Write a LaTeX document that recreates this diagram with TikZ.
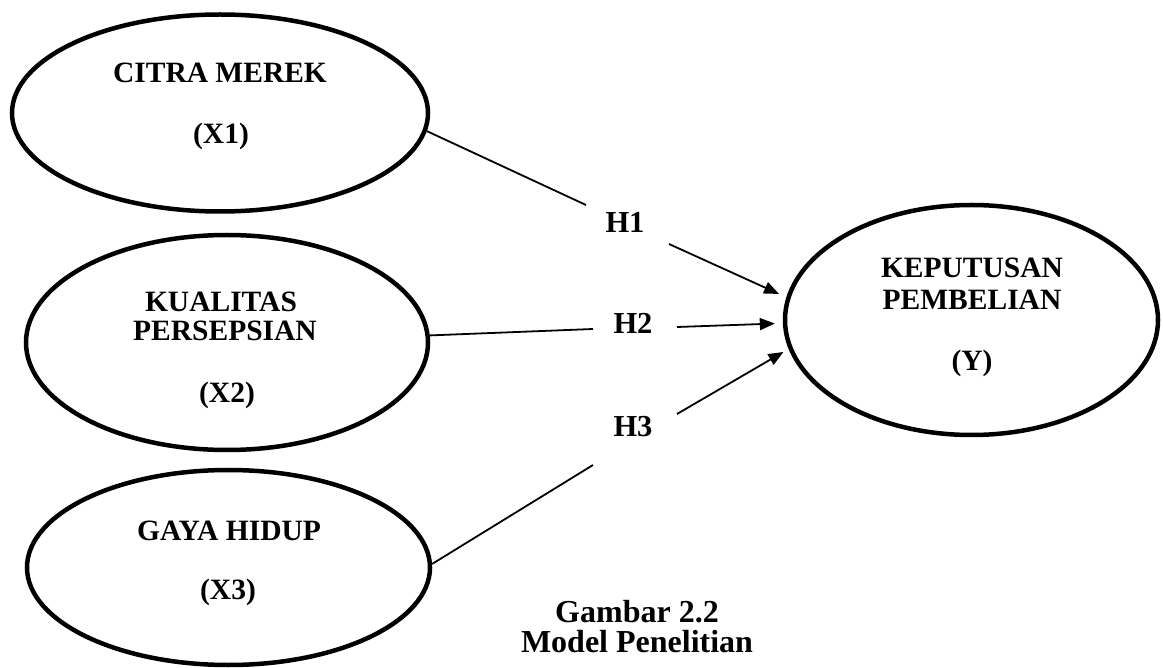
\documentclass[tikz,border=0pt]{standalone}
\usepackage{fontspec}
\setmainfont{Liberation Serif}
\usetikzlibrary{arrows.meta,shapes.geometric}
\begin{document}
\begin{tikzpicture}[x=1pt,y=-1pt,
  ell/.style={ellipse,draw,line width=4.5pt,inner sep=0pt},
  lbl/.style={inner sep=0pt,font=\fontsize{29.5}{30}\selectfont\bfseries},
  hyp/.style={inner sep=0pt,font=\fontsize{30.5}{31}\selectfont\bfseries},
  captxt/.style={inner sep=0pt,font=\fontsize{32}{33}\selectfont\bfseries},
  conn/.style={line width=1.8pt},
  arr/.style={line width=1.8pt,-{Triangle[length=15pt,width=12pt]}}]
\useasboundingbox (0,0) rectangle (1163,668);
% ellipses
\node[ell,minimum width=416pt,minimum height=197pt] (e1) at (220,113) {};
\node[ell,minimum width=402pt,minimum height=215pt] (e2) at (227,342.5) {};
\node[ell,minimum width=403pt,minimum height=195pt] (e3) at (228.5,567.5) {};
\node[ell,minimum width=373pt,minimum height=230pt] (e4) at (971.5,320) {};
% texts
\node[lbl] (t1a) at (220,73) {CITRA MEREK};
\node[lbl] (t1b) at (221,136) {(X1)};
\node[lbl] (t2a) at (221,302) {KUALITAS};
\node[lbl] (t2b) at (225,331) {PERSEPSIAN};
\node[lbl] (t2c) at (227,395) {(X2)};
\node[lbl] (t3a) at (229,531) {GAYA HIDUP};
\node[lbl] (t3b) at (228,592) {(X3)};
\node[lbl] (t4a) at (972,268) {KEPUTUSAN};
\node[lbl] (t4b) at (972,300) {PEMBELIAN};
\node[lbl] (t4c) at (972,363) {(Y)};
% hypothesis labels
\node[hyp] (H1) at (625,222) {H1};
\node[hyp] (H2) at (633,323) {H2};
\node[hyp] (H3) at (633,427) {H3};
% connector free ends
\coordinate (h1a) at (586,205);
\coordinate (h1b) at (669,244);
\coordinate (h2a) at (593,329);
\coordinate (h2b) at (677,327);
\coordinate (h3a) at (593,465);
\coordinate (h3b) at (677,414);
\draw[conn] (e1.-5) -- (h1a);
\draw[arr,shorten >=8pt] (h1b) -- (e4.173);
\draw[conn] (e2.2) -- (h2a);
\draw[arr,shorten >=8pt] (h2b) -- (e4.-179);
\draw[conn] (e3.1) -- (h3a);
\draw[arr,shorten >=6pt] (h3b) -- (e4.-171);
% caption
\node[captxt] (c1) at (637,612) {Gambar 2.2};
\node[captxt] (c2) at (637,642) {Model Penelitian};
\end{tikzpicture}
\end{document}
